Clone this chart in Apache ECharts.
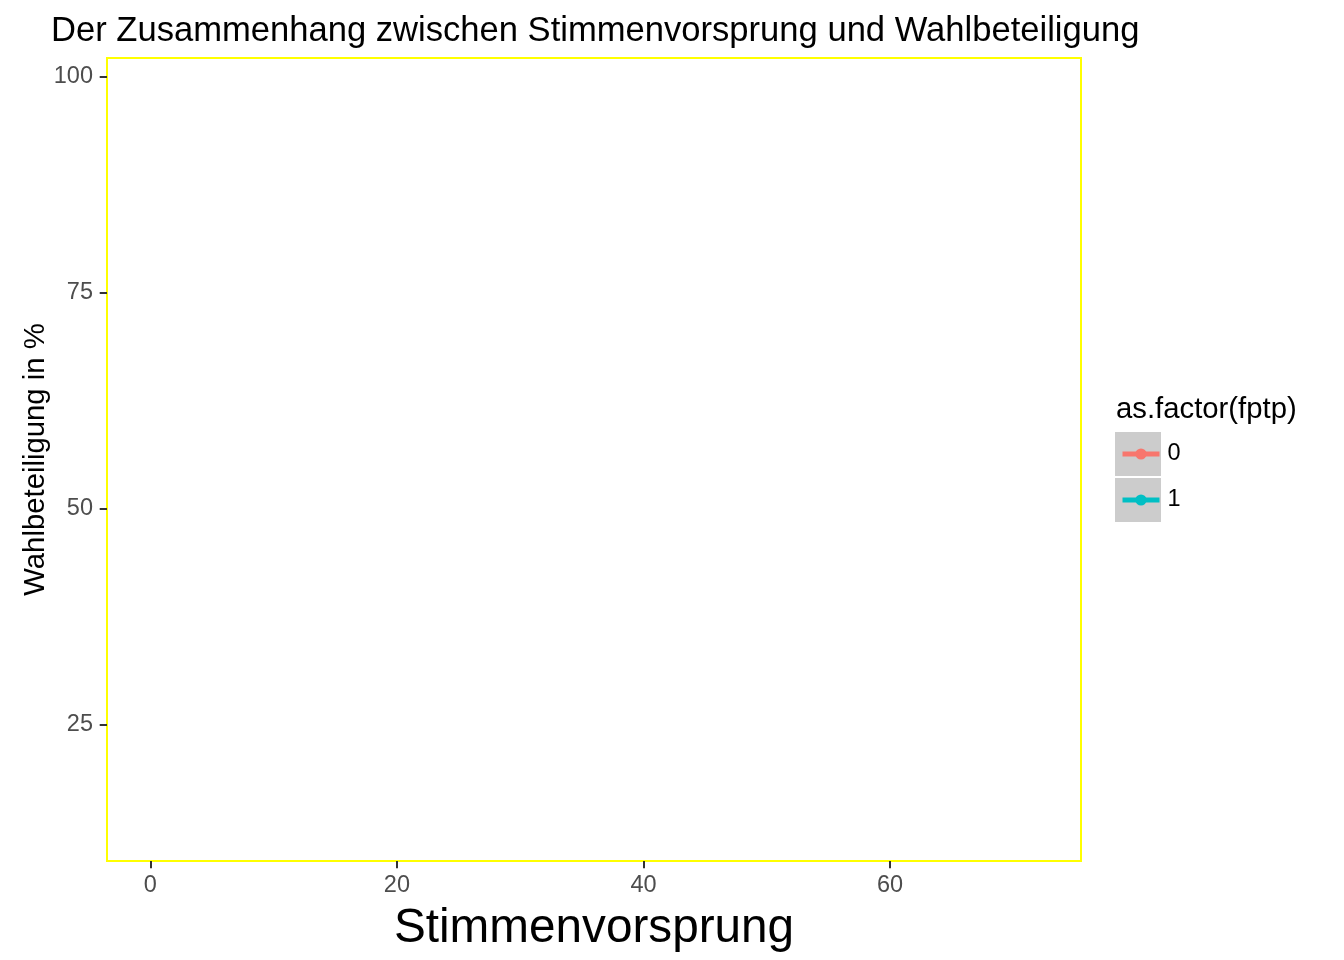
<!DOCTYPE html>
<html>
<head>
<meta charset="utf-8">
<script src="https://cdn.jsdelivr.net/npm/echarts@6/dist/echarts.min.js"></script>
<style>html,body{margin:0;padding:0;background:#fff}#c{width:1344px;height:960px}</style>
</head>
<body>
<div id="c"></div>
<script>
// Data (the reference shows an empty panel: no marks are drawn)
const groupNames = ['0', '1'];
const group0Values = []; // [Stimmenvorsprung, Wahlbeteiligung]
const group1Values = [];
const xTicks = [0, 20, 40, 60];
const yTicks = [25, 50, 75, 100];
const xRange = [-3.51, 75.48];
const yRange = [9.23, 102.13];

const FONT = '"Liberation Sans", Arial, Helvetica, sans-serif';
const chart = echarts.init(document.getElementById('c'), null, {renderer: 'canvas'});
chart.setOption({
  animation: false,
  backgroundColor: '#ffffff',
  title: {
    text: 'Der Zusammenhang zwischen Stimmenvorsprung und Wahlbeteiligung',
    left: 46, top: 9,
    textStyle: {fontFamily: FONT, fontSize: 34.6, fontWeight: 'normal', color: '#000'}
  },
  grid: {
    left: 107, top: 58, width: 974, height: 803,
    outerBoundsMode: 'none', containLabel: false,
    show: true, borderColor: '#ffff00', borderWidth: 2, backgroundColor: '#ffffff'
  },
  xAxis: {
    type: 'value', min: xRange[0], max: xRange[1],
    name: 'Stimmenvorsprung', nameLocation: 'middle', nameGap: 44, nameMoveOverlap: false,
    nameTextStyle: {fontFamily: FONT, fontSize: 47.7, color: '#000'},
    axisLine: {show: false, onZero: false},
    splitLine: {show: false},
    axisTick: {show: true, customValues: xTicks, length: 7.3, lineStyle: {color: '#333333', width: 2}},
    axisLabel: {customValues: xTicks, margin: 13, fontFamily: FONT, fontSize: 23.5, color: '#4d4d4d'}
  },
  yAxis: {
    type: 'value', min: yRange[0], max: yRange[1],
    name: 'Wahlbeteiligung in %', nameLocation: 'middle', nameGap: 57, nameRotate: 90, nameMoveOverlap: false,
    nameTextStyle: {fontFamily: FONT, fontSize: 29.3, color: '#000'},
    axisLine: {show: false, onZero: false},
    splitLine: {show: false},
    axisTick: {show: true, customValues: yTicks, length: 7.3, lineStyle: {color: '#333333', width: 2}},
    axisLabel: {customValues: yTicks, margin: 14, fontFamily: FONT, fontSize: 23.5, color: '#4d4d4d'}
  },
  legend: {
    orient: 'vertical', left: 1120, top: 442, padding: 0,
    itemWidth: 37, itemHeight: 14, itemGap: 22,
    selectedMode: false,
    lineStyle: {width: 5},
    textStyle: {fontFamily: FONT, fontSize: 23.5, color: '#000', padding: [0, 0, 0, 3]},
    data: groupNames
  },
  graphic: [
    {type: 'rect', shape: {x: 1115, y: 432, width: 46, height: 44}, style: {fill: '#cccccc'}, z: -1},
    {type: 'rect', shape: {x: 1115, y: 478, width: 46, height: 44}, style: {fill: '#cccccc'}, z: -1},
    {type: 'text', style: {x: 1116, y: 410, text: 'as.factor(fptp)', font: '29.3px ' + FONT, fill: '#000', verticalAlign: 'middle'}}
  ],
  series: [
    {name: groupNames[0], type: 'line', data: group0Values, color: '#F8766D', symbol: 'circle', symbolSize: 8, lineStyle: {width: 5}},
    {name: groupNames[1], type: 'line', data: group1Values, color: '#00BFC4', symbol: 'circle', symbolSize: 8, lineStyle: {width: 5}}
  ]
});
</script>
</body>
</html>
